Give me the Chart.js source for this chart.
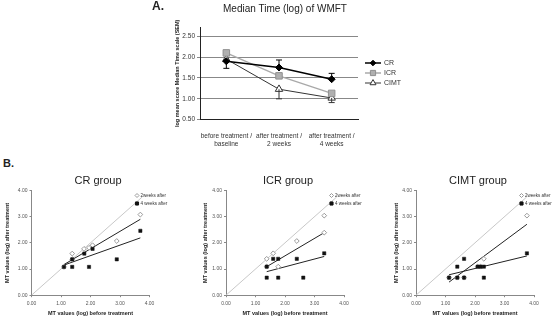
<!DOCTYPE html>
<html>
<head>
<meta charset="utf-8">
<title>WMFT median time</title>
<script src="https://cdn.jsdelivr.net/npm/chart.js@4.4.1/dist/chart.umd.min.js"></script>
<style>
    body { margin: 0; background: #fff; }
    #figure {
        position: relative;
        width: 557px;
        height: 321px;
        overflow: hidden;
        background: #fff;
        font-family: "Liberation Sans", Arial, sans-serif;
        color: #222;
    }
    #figure canvas { position: absolute; }
    .txt { position: absolute; white-space: nowrap; line-height: 1; }
</style>
</head>
<body>
<div id="figure">
    <canvas id="wmftChart" width="280" height="150" style="left:140px;top:0px"></canvas>
    <canvas id="crChart" width="185" height="136" style="left:0px;top:185px"></canvas>
    <canvas id="icrChart" width="185" height="136" style="left:190px;top:185px"></canvas>
    <canvas id="cimtChart" width="182" height="136" style="left:375px;top:185px"></canvas>
</div>
<script>
// ---- Panel A: median time (log) per measurement point ----
const timeLabels = [['before treatment /', 'baseline'], ['after treatment /', '2 weeks'], ['after treatment /', '4 weeks']];
const crMedian = [1.90, 1.75, 1.47];
const icrMedian = [2.10, 1.55, 1.13];
const cimtMedian = [1.95, 1.23, 1.02];
// end of the SEM whisker for each point (null = no whisker shown)
const crSemEnd = [1.73, 1.93, 1.61];
const icrSemEnd = [null, null, null];
const cimtSemEnd = [null, 1.00, 0.91];
const medianTicks = [0.50, 1.00, 1.50, 2.00, 2.50];

// ---- Panel B: MT before vs after treatment, per group ----
const mtTicks = [0, 1, 2, 3, 4];
const diagX = [0, 3.75];
const diagY = [0, 3.75];

const crWeek2X = [1.10, 1.38, 1.38, 1.78, 1.95, 2.07, 2.89, 3.69];
const crWeek2Y = [1.08, 1.59, 1.37, 1.77, 1.81, 1.91, 2.07, 3.08];
const crWeek4X = [1.10, 1.38, 1.38, 1.79, 1.95, 2.07, 2.89, 3.69];
const crWeek4Y = [1.08, 1.37, 1.08, 1.59, 1.08, 1.77, 1.37, 2.46];
const crTrend2X = [1.10, 3.69];
const crTrend2Y = [1.17, 2.90];
const crTrend4X = [1.10, 3.69];
const crTrend4Y = [1.15, 2.19];

const icrWeek2X = [1.38, 1.38, 1.60, 1.77, 2.40, 3.33, 3.33];
const icrWeek2Y = [1.39, 1.09, 1.60, 1.09, 2.07, 2.39, 3.04];
const icrWeek4X = [1.38, 1.38, 1.60, 1.77, 1.77, 2.40, 2.62, 3.33];
const icrWeek4Y = [1.09, 0.67, 1.39, 1.39, 0.67, 1.39, 0.67, 1.60];
const icrTrend2X = [1.38, 3.33];
const icrTrend2Y = [1.09, 2.39];
const icrTrend4X = [1.38, 3.33];
const icrTrend4Y = [0.90, 1.48];

const cimtWeek2X = [1.12, 1.40, 1.63, 2.09, 2.19, 2.30, 3.76];
const cimtWeek2Y = [0.67, 0.67, 0.67, 1.09, 1.09, 1.39, 3.04];
const cimtWeek4X = [1.12, 1.40, 1.40, 1.63, 1.63, 2.09, 2.19, 2.30, 2.30, 3.76];
const cimtWeek4Y = [0.67, 1.09, 0.67, 1.39, 0.67, 1.09, 1.09, 1.09, 0.67, 1.60];
const cimtTrend2X = [1.12, 3.76];
const cimtTrend2Y = [0.50, 2.71];
const cimtTrend4X = [1.12, 3.76];
const cimtTrend4Y = [0.78, 1.50];

const FONT = '"Liberation Sans", Arial, sans-serif';

function toPoints(xs, ys) {
    return xs.map((x, i) => ({ x: x, y: ys[i] }));
}

// Marker shapes, same geometry as Chart.js point styles
function drawMarker(ctx, style, x, y, r, fill, stroke, lw) {
    ctx.save();
    ctx.beginPath();
    if (style === 'rectRot') {
        ctx.moveTo(x, y - r); ctx.lineTo(x + r, y); ctx.lineTo(x, y + r); ctx.lineTo(x - r, y);
    } else if (style === 'rect') {
        const s = r * Math.SQRT1_2;
        ctx.rect(x - s, y - s, 2 * s, 2 * s);
    } else if (style === 'triangle') {
        for (let k = 0; k < 3; k++) {
            const a = k * 2 * Math.PI / 3;
            const px = x + Math.sin(a) * r, py = y - Math.cos(a) * r;
            if (k === 0) ctx.moveTo(px, py); else ctx.lineTo(px, py);
        }
    }
    ctx.closePath();
    ctx.fillStyle = fill;
    ctx.fill();
    ctx.lineWidth = lw;
    ctx.strokeStyle = stroke;
    ctx.stroke();
    ctx.restore();
}

// Text placed by its baseline
function addText(text, x, baseline, size, bold, align) {
    const el = document.createElement('div');
    el.className = 'txt';
    el.textContent = text;
    el.style.fontSize = size + 'px';
    el.style.fontWeight = bold ? 'bold' : 'normal';
    el.style.top = (baseline - 0.8465 * size) + 'px';
    if (align === 'center') {
        el.style.left = (x - 200) + 'px';
        el.style.width = '400px';
        el.style.textAlign = 'center';
    } else {
        el.style.left = x + 'px';
    }
    document.getElementById('figure').appendChild(el);
}

// SEM whiskers drawn from each point to its end value
const semBars = {
    id: 'semBars',
    afterDatasetsDraw(chart) {
        const ctx = chart.ctx;
        const yScale = chart.scales.y;
        chart.data.datasets.forEach((ds, i) => {
            if (!ds.semEnd) return;
            const meta = chart.getDatasetMeta(i);
            ds.semEnd.forEach((v, j) => {
                if (v == null) return;
                const pt = meta.data[j];
                const yEnd = yScale.getPixelForValue(v);
                ctx.save();
                ctx.strokeStyle = ds.borderColor;
                ctx.lineWidth = 1;
                ctx.beginPath();
                ctx.moveTo(pt.x, pt.y);
                ctx.lineTo(pt.x, yEnd);
                ctx.moveTo(pt.x - 3, yEnd);
                ctx.lineTo(pt.x + 3, yEnd);
                ctx.stroke();
                ctx.restore();
            });
        });
    }
};

// Legend to the right of panel A (line sample + marker + label)
const sideLegend = {
    id: 'sideLegend',
    afterDraw(chart) {
        const ctx = chart.ctx;
        const x0 = chart.chartArea.right + 7;
        chart.data.datasets.forEach((ds, i) => {
            const y = 63 + i * 10;
            ctx.save();
            ctx.strokeStyle = ds.borderColor;
            ctx.lineWidth = ds.borderWidth;
            ctx.beginPath();
            ctx.moveTo(x0, y);
            ctx.lineTo(x0 + 16, y);
            ctx.stroke();
            ctx.restore();
            drawMarker(ctx, ds.pointStyle, x0 + 8, y, ds.pointRadius * 0.8,
                ds.pointBackgroundColor, ds.pointBorderColor, 1);
            ctx.save();
            ctx.fillStyle = '#333';
            ctx.font = '7px ' + FONT;
            ctx.textBaseline = 'middle';
            ctx.fillText(ds.label, x0 + 19, y + 0.5);
            ctx.restore();
        });
    }
};

// Small legend in the top right corner of each group plot
const groupLegend = {
    id: 'groupLegend',
    afterDraw(chart) {
        const ctx = chart.ctx;
        const x = chart.chartArea.right - 12.5;
        const y = chart.chartArea.top + 5;
        drawMarker(ctx, 'rectRot', x, y, 2, '#fff', '#999', 1);
        drawMarker(ctx, 'rect', x, y + 8, 2.2, '#111', '#111', 1);
        ctx.save();
        ctx.fillStyle = '#333';
        ctx.font = '4.5px ' + FONT;
        ctx.textBaseline = 'middle';
        ctx.fillText('2weeks after', x + 3.5, y + 0.3);
        ctx.fillText('4 weeks after', x + 3.5, y + 8.3);
        ctx.restore();
    }
};

function initMedianChart() {
    new Chart(document.getElementById('wmftChart'), {
        type: 'line',
        data: {
            labels: timeLabels,
            datasets: [{
                label: 'CR',
                data: crMedian,
                semEnd: crSemEnd,
                borderColor: '#000',
                borderWidth: 1.5,
                pointStyle: 'rectRot',
                pointRadius: 3.5,
                pointBackgroundColor: '#000',
                pointBorderColor: '#000',
                pointBorderWidth: 1
            }, {
                label: 'ICR',
                data: icrMedian,
                semEnd: icrSemEnd,
                borderColor: '#aaa',
                borderWidth: 1.5,
                pointStyle: 'rect',
                pointRadius: 4.6,
                pointBackgroundColor: '#b0b0b0',
                pointBorderColor: '#909090',
                pointBorderWidth: 1
            }, {
                label: 'CIMT',
                data: cimtMedian,
                semEnd: cimtSemEnd,
                borderColor: '#333',
                borderWidth: 1,
                pointStyle: 'triangle',
                pointRadius: 4.3,
                pointBackgroundColor: '#fff',
                pointBorderColor: '#333',
                pointBorderWidth: 1
            }]
        },
        options: {
            responsive: false,
            animation: false,
            layout: { padding: { left: 33.4, right: 62, top: 27, bottom: 0 } },
            plugins: { legend: { display: false }, tooltip: { enabled: false } },
            scales: {
                x: {
                    offset: true,
                    grid: { display: false },
                    border: { color: '#222', width: 1 },
                    ticks: {
                        color: '#333',
                        font: { family: FONT, size: 6.5, lineHeight: 1.3 },
                        padding: 4,
                        maxRotation: 0,
                        autoSkip: false
                    },
                    afterFit(scale) { scale.height = 30.3; }
                },
                y: {
                    min: 0.5,
                    max: 2.72,
                    afterBuildTicks(scale) { scale.ticks = medianTicks.map(v => ({ value: v })); },
                    grid: { color: '#888', lineWidth: 1, tickLength: 3 },
                    border: { color: '#222', width: 1 },
                    ticks: {
                        color: '#333',
                        font: { family: FONT, size: 6.5 },
                        padding: 2,
                        callback: v => Number(v).toFixed(2)
                    },
                    title: {
                        display: true,
                        text: 'log mean score Median Time scale (SEM)',
                        color: '#222',
                        font: { family: FONT, size: 5.5, weight: 'bold' },
                        padding: { top: 1, bottom: 0 }
                    },
                    afterFit(scale) { scale.width = 26.6; }
                }
            }
        },
        plugins: [semBars, sideLegend]
    });
}

function initGroupChart(id, g) {
    const lineDs = (xs, ys, color, order) => ({
        type: 'line',
        data: toPoints(xs, ys),
        borderColor: color,
        borderWidth: 1,
        pointRadius: 0,
        fill: false,
        order: order
    });
    const axisTicks = {
        color: '#555',
        font: { family: FONT, size: 5 },
        padding: 2,
        callback: v => Number(v).toFixed(2)
    };
    new Chart(document.getElementById(id), {
        type: 'scatter',
        data: {
            datasets: [
                {
                    label: '4 weeks after',
                    data: toPoints(g.w4x, g.w4y),
                    pointStyle: 'rect',
                    pointRadius: 2.3,
                    pointBackgroundColor: '#111',
                    pointBorderColor: '#111',
                    pointBorderWidth: 0.5,
                    order: 0
                },
                {
                    label: '2weeks after',
                    data: toPoints(g.w2x, g.w2y),
                    pointStyle: 'rectRot',
                    pointRadius: 2.4,
                    pointBackgroundColor: '#fff',
                    pointBorderColor: '#999',
                    pointBorderWidth: 1,
                    order: 1
                },
                lineDs(g.t2x, g.t2y, '#222', 2),
                lineDs(g.t4x, g.t4y, '#222', 3),
                lineDs(diagX, diagY, '#c8c8c8', 4)
            ]
        },
        options: {
            responsive: false,
            animation: false,
            layout: { padding: { left: g.padLeft, right: g.padRight, top: 5.5, bottom: 0 } },
            plugins: { legend: { display: false }, tooltip: { enabled: false } },
            scales: {
                x: {
                    type: 'linear',
                    min: 0,
                    max: 4,
                    afterBuildTicks(scale) { scale.ticks = mtTicks.map(v => ({ value: v })); },
                    grid: { drawOnChartArea: false, color: '#888', tickLength: 2 },
                    border: { color: '#888', width: 1 },
                    ticks: Object.assign({}, axisTicks, { padding: 3, maxRotation: 0 }),
                    title: {
                        display: true,
                        text: 'MT values (log) before treatment',
                        color: '#222',
                        font: { family: FONT, size: 5.5, weight: 'bold' },
                        padding: { top: 0, bottom: 4.7 }
                    },
                    afterFit(scale) { scale.height = 25.8; }
                },
                y: {
                    min: 0,
                    max: 4,
                    afterBuildTicks(scale) { scale.ticks = mtTicks.map(v => ({ value: v })); },
                    grid: { drawOnChartArea: false, color: '#888', tickLength: 2 },
                    border: { color: '#888', width: 1 },
                    ticks: axisTicks,
                    title: {
                        display: true,
                        text: 'MT values (log) after treatment',
                        color: '#222',
                        font: { family: FONT, size: 5.5, weight: 'bold' },
                        padding: { top: 1, bottom: 0 }
                    },
                    afterFit(scale) { scale.width = g.yWidth; }
                }
            }
        },
        plugins: [groupLegend]
    });
}

function initHeadings() {
    addText('A.', 152, 10.3, 12, true);
    addText('Median Time (log) of WMFT', 285, 12, 10, false, 'center');
    addText('B.', 3, 167, 11, true);
    addText('CR group', 98, 184, 11, false, 'center');
    addText('ICR group', 288, 184, 11, false, 'center');
    addText('CIMT group', 478, 184, 11, false, 'center');
}

initHeadings();
initMedianChart();
initGroupChart('crChart', {
    w2x: crWeek2X, w2y: crWeek2Y, w4x: crWeek4X, w4y: crWeek4Y,
    t2x: crTrend2X, t2y: crTrend2Y, t4x: crTrend4X, t4y: crTrend4Y,
    padLeft: 3.4, yWidth: 28.1, padRight: 35.5
});
initGroupChart('icrChart', {
    w2x: icrWeek2X, w2y: icrWeek2Y, w4x: icrWeek4X, w4y: icrWeek4Y,
    t2x: icrTrend2X, t2y: icrTrend2Y, t4x: icrTrend4X, t4y: icrTrend4Y,
    padLeft: 11.4, yWidth: 24.6, padRight: 31
});
initGroupChart('cimtChart', {
    w2x: cimtWeek2X, w2y: cimtWeek2Y, w4x: cimtWeek4X, w4y: cimtWeek4Y,
    t2x: cimtTrend2X, t2y: cimtTrend2Y, t4x: cimtTrend4X, t4y: cimtTrend4Y,
    padLeft: 17.1, yWidth: 23.9, padRight: 23
});
</script>
</body>
</html>
